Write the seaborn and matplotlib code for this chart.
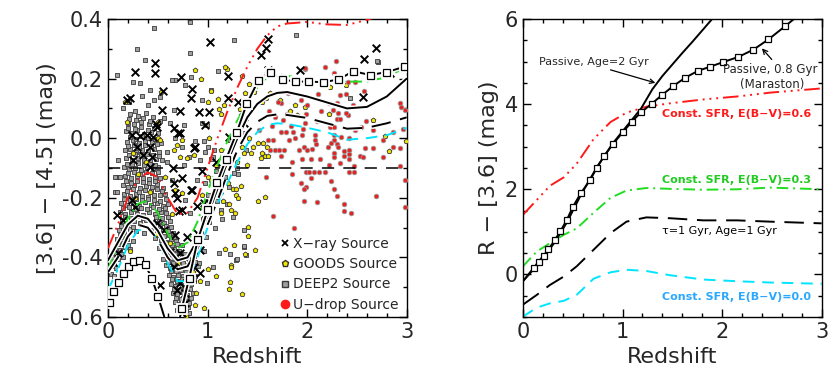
import numpy as np
import pandas as pd
import matplotlib
matplotlib.use("Agg")
import matplotlib.pyplot as plt
import matplotlib.patheffects as pe
from matplotlib.ticker import MultipleLocator, FormatStrFormatter
from matplotlib.lines import Line2D
import seaborn as sns

sns.set_theme(style="ticks")
plt.rcParams["font.family"] = ["DejaVu Sans"]

# ---------------- data: left panel scatter (redshift, [3.6]-[4.5]) ----------------
xray_pts = [
    (1.03, 0.324), (0.27, 0.223), (0.47, 0.251), (0.47, 0.220), (0.73, 0.204), (0.55, 0.160),
    (0.19, 0.128), (0.22, 0.134), (0.84, 0.164), (0.83, 0.134), (0.72, 0.092), (0.54, 0.095),
    (0.91, 0.089), (1.02, 0.089), (0.97, 0.044), (0.48, 0.047), (0.66, 0.033), (0.72, 0.016),
    (1.21, 0.209), (1.21, 0.134), (1.31, 0.123), (1.22, 0.005), (1.37, 0.050), (0.65, -0.101),
    (0.94, -0.109), (0.87, -0.028), (0.84, -0.174), (0.74, -0.135), (0.66, -0.151), (0.74, -0.241),
    (1.09, -0.079), (0.96, -0.219), (0.98, -0.252), (1.54, 0.279), (1.59, 0.302), (1.61, 0.332),
    (1.61, 0.229), (1.93, 0.229), (2.57, 0.265), (2.69, 0.302), (2.56, 0.139), (2.83, 0.218),
    (0.24, 0.011), (0.32, 0.007), (0.39, 0.011), (0.45, 0.005), (0.29, -0.028), (0.42, -0.028),
    (0.35, -0.056), (0.44, -0.062), (0.25, -0.073), (0.42, -0.096), (0.49, 0.039), (0.09, -0.258),
    (0.15, -0.275), (0.10, -0.386), (0.05, -0.414), (0.24, -0.207), (0.27, -0.230), (0.52, -0.493),
    (0.72, -0.386), (0.66, -0.431), (0.72, -0.487), (0.77, -0.521), (0.69, -0.509), (0.79, -0.330),
    (0.89, -0.319), (0.92, -0.375), (0.67, -0.325), (0.56, -0.308), (0.49, -0.286), (1.02, -0.219),
    (1.12, -0.174), (0.77, -0.554), (0.74, -0.588), (0.62, -0.381), (0.86, -0.431), (0.92, -0.453),
    (0.84, -0.470), (0.86, -0.034), (0.70, 0.016), (0.67, -0.185), (0.69, -0.200), (0.71, -0.244),
    (0.89, -0.226), (0.83, -0.174),
]

deep2_pts = [
    (0.46, 0.369), (0.82, 0.391), (0.29, 0.298), (0.37, 0.262), (0.09, 0.212), (0.82, 0.285),
    (0.83, 0.207), (0.67, 0.195), (0.64, 0.195), (1.11, 0.227), (1.27, 0.330), (1.89, 0.346),
    (2.71, 0.257), (2.43, 0.134), (1.04, 0.162), (0.94, 0.128), (0.77, 0.179), (0.66, 0.095),
    (0.99, 0.044), (1.06, -0.062), (0.92, -0.073), (0.09, -0.129), (0.07, -0.179), (1.36, 0.016),
    (1.39, -0.040), (1.27, -0.118), (1.22, -0.163), (1.26, -0.263), (1.37, -0.308), (1.37, -0.364),
    (1.39, -0.392), (1.29, -0.409), (1.12, -0.386), (1.06, -0.431), (0.99, -0.487), (0.81, -0.588),
    (0.52, 0.139), (0.32, 0.184), (0.25, 0.190), (0.42, 0.162), (0.46, 0.128), (0.56, 0.067),
    (0.62, 0.050), (0.76, 0.044), (0.94, 0.050), (0.67, 0.000), (0.74, -0.028), (0.59, -0.045),
    (0.87, -0.010), (0.81, -0.062), (0.96, -0.010), (0.97, -0.045), (0.76, -0.090), (0.59, -0.079),
    (0.64, -0.140), (0.89, -0.140), (0.97, -0.151), (0.77, -0.207), (0.82, -0.252), (0.97, -0.235),
    (0.10, -0.073), (0.07, -0.129), (0.12, -0.129), (0.09, -0.179), (1.37, -0.361), (1.23, -0.390),
    (1.30, -0.406), (1.00, -0.030), (1.07, -0.040), (1.04, -0.070), (1.09, -0.110), (1.14, -0.240),
    (1.07, -0.150), (1.12, -0.180), (1.30, -0.100), (1.31, -0.120), (1.05, -0.190), (1.00, -0.190),
    (1.28, 0.020), (1.23, -0.005), (2.70, 0.259), (0.15, 0.100), (0.21, 0.120), (0.34, 0.140),
    (0.40, 0.110), (0.27, 0.090),
    # dense low-z cloud
    (0.22, 0.082), (0.30, 0.076), (0.38, 0.085), (0.45, 0.071),
    (0.20, 0.052), (0.26, 0.046), (0.33, 0.055), (0.41, 0.049), (0.48, 0.043), (0.52, 0.058),
    (0.18, 0.024), (0.23, 0.017), (0.29, 0.026), (0.36, 0.014), (0.43, 0.022), (0.50, 0.018),
    (0.19, -0.012), (0.25, -0.006), (0.31, -0.015), (0.37, -0.008), (0.44, -0.013), (0.49, -0.004), (0.53, -0.016),
    (0.17, -0.041), (0.22, -0.036), (0.28, -0.045), (0.34, -0.038), (0.40, -0.043), (0.46, -0.035), (0.51, -0.047),
    (0.18, -0.068), (0.24, -0.074), (0.30, -0.066), (0.36, -0.072), (0.42, -0.077), (0.48, -0.069), (0.54, -0.073),
    (0.16, -0.097), (0.21, -0.104), (0.27, -0.099), (0.33, -0.106), (0.39, -0.095), (0.45, -0.103), (0.50, -0.098),
    (0.17, -0.128), (0.23, -0.134), (0.29, -0.126), (0.35, -0.133), (0.41, -0.137), (0.47, -0.129), (0.52, -0.135),
    (0.15, -0.158), (0.20, -0.164), (0.26, -0.157), (0.32, -0.166), (0.38, -0.159), (0.44, -0.163), (0.49, -0.155), (0.55, -0.167),
    (0.16, -0.188), (0.22, -0.195), (0.28, -0.186), (0.34, -0.193), (0.40, -0.197), (0.46, -0.189), (0.52, -0.192), (0.57, -0.186),
    (0.13, -0.217), (0.19, -0.224), (0.25, -0.218), (0.31, -0.226), (0.37, -0.215), (0.43, -0.223), (0.49, -0.219), (0.55, -0.227), (0.60, -0.221),
    (0.12, -0.248), (0.17, -0.254), (0.23, -0.246), (0.29, -0.253), (0.35, -0.257), (0.41, -0.249), (0.47, -0.255), (0.53, -0.246), (0.58, -0.252),
    (0.14, -0.277), (0.20, -0.284), (0.26, -0.279), (0.32, -0.286), (0.38, -0.276), (0.45, -0.283), (0.51, -0.278), (0.56, -0.285), (0.62, -0.279),
    (0.11, -0.308), (0.16, -0.314), (0.22, -0.306), (0.28, -0.313), (0.36, -0.317), (0.43, -0.309), (0.49, -0.315), (0.55, -0.307), (0.60, -0.312), (0.65, -0.318),
    (0.09, -0.337), (0.14, -0.344), (0.19, -0.338), (0.25, -0.345), (0.47, -0.336), (0.53, -0.343), (0.58, -0.347), (0.63, -0.339), (0.68, -0.344),
    (0.07, -0.368), (0.12, -0.374), (0.17, -0.366), (0.22, -0.373), (0.51, -0.369), (0.56, -0.375), (0.61, -0.367), (0.66, -0.372), (0.71, -0.377),
    (0.05, -0.397), (0.10, -0.404), (0.15, -0.398), (0.55, -0.405), (0.60, -0.396), (0.64, -0.402), (0.69, -0.407), (0.74, -0.399), (0.80, -0.403), (0.86, -0.396),
    (0.04, -0.428), (0.08, -0.434), (0.58, -0.427), (0.62, -0.435), (0.67, -0.429), (0.72, -0.436), (0.78, -0.426), (0.84, -0.433), (0.90, -0.428),
    (0.03, -0.457), (0.06, -0.463), (0.61, -0.458), (0.65, -0.466), (0.70, -0.459), (0.75, -0.464), (0.81, -0.455), (0.87, -0.462),
    (0.63, -0.488), (0.67, -0.495), (0.72, -0.487), (0.77, -0.494), (0.83, -0.489),
    (0.65, -0.518), (0.69, -0.524), (0.74, -0.517), (0.79, -0.525), (0.85, -0.519),
    (0.67, -0.548), (0.71, -0.555), (0.76, -0.549), (0.81, -0.553),
    (0.69, -0.578), (0.73, -0.584), (0.78, -0.577),
    (0.88, -0.350), (0.93, -0.310), (0.95, -0.270), (0.98, -0.330), (1.02, -0.280), (1.05, -0.240),
    (1.08, -0.300), (1.10, -0.210), (1.15, -0.270), (1.18, -0.130), (1.20, -0.220), (0.91, -0.420),
    (0.96, -0.380),
    # second pass through the dense cloud
    (0.21, 0.065), (0.28, 0.061), (0.35, 0.068), (0.42, 0.059),
    (0.20, 0.035), (0.27, 0.031), (0.33, 0.038), (0.40, 0.029), (0.46, 0.034),
    (0.22, 0.003), (0.28, -0.002), (0.34, 0.006), (0.40, 0.001), (0.47, -0.003),
    (0.20, -0.026), (0.26, -0.022), (0.31, -0.029), (0.37, -0.024), (0.43, -0.027), (0.49, -0.021),
    (0.21, -0.056), (0.27, -0.052), (0.33, -0.058), (0.39, -0.053), (0.45, -0.057), (0.51, -0.060),
    (0.19, -0.085), (0.24, -0.088), (0.30, -0.083), (0.36, -0.089), (0.42, -0.086), (0.47, -0.091),
    (0.20, -0.116), (0.26, -0.113), (0.32, -0.119), (0.38, -0.114), (0.44, -0.118), (0.50, -0.112),
    (0.18, -0.145), (0.23, -0.149), (0.29, -0.143), (0.35, -0.147), (0.41, -0.151), (0.47, -0.144),
    (0.19, -0.176), (0.25, -0.172), (0.31, -0.179), (0.37, -0.174), (0.43, -0.178), (0.49, -0.171), (0.54, -0.177),
    (0.16, -0.205), (0.22, -0.209), (0.28, -0.203), (0.34, -0.208), (0.40, -0.204), (0.46, -0.207), (0.52, -0.211), (0.58, -0.203),
    (0.15, -0.235), (0.21, -0.231), (0.27, -0.238), (0.33, -0.233), (0.39, -0.236), (0.45, -0.232), (0.51, -0.239), (0.57, -0.234),
    (0.17, -0.265), (0.23, -0.268), (0.29, -0.262), (0.35, -0.267), (0.48, -0.264), (0.54, -0.269), (0.60, -0.263),
    (0.13, -0.295), (0.19, -0.292), (0.25, -0.298), (0.52, -0.296), (0.58, -0.293), (0.63, -0.299),
    (0.12, -0.325), (0.17, -0.329), (0.50, -0.324), (0.56, -0.328), (0.61, -0.326), (0.66, -0.331),
    (0.10, -0.356), (0.15, -0.352), (0.20, -0.358), (0.54, -0.355), (0.59, -0.352), (0.64, -0.357), (0.69, -0.354), (0.74, -0.359),
    (0.08, -0.385), (0.13, -0.388), (0.58, -0.386), (0.62, -0.383), (0.67, -0.389), (0.72, -0.384), (0.77, -0.387), (0.83, -0.382),
    (0.06, -0.415), (0.60, -0.414), (0.65, -0.419), (0.70, -0.413), (0.75, -0.418), (0.81, -0.412), (0.87, -0.416),
    (0.63, -0.444), (0.68, -0.447), (0.73, -0.442), (0.78, -0.448), (0.84, -0.443),
    (0.64, -0.474), (0.69, -0.478), (0.74, -0.472), (0.80, -0.476), (0.86, -0.479),
    (0.66, -0.505), (0.71, -0.508), (0.76, -0.503), (0.82, -0.507),
    (0.68, -0.535), (0.73, -0.538), (0.78, -0.533), (0.83, -0.537),
    (0.70, -0.565), (0.75, -0.568), (0.80, -0.566),
]

goods_pts = [
    (1.197, 0.231), (1.35, 0.209), (1.04, 0.159), (1.106, 0.131), (1.00, 0.120), (1.166, 0.111),
    (1.12, 0.097), (1.14, 0.080), (1.374, 0.153), (1.417, 0.182), (1.464, 0.154), (1.324, 0.097),
    (1.34, 0.078), (1.625, 0.153), (1.59, 0.136), (1.55, 0.120), (1.725, 0.128), (1.876, 0.111),
    (1.90, 0.078), (1.83, 0.090), (2.23, 0.173), (2.39, 0.179), (1.98, 0.104), (2.22, 0.080),
    (2.78, 0.007), (2.82, -0.042), (2.99, -0.010), (2.66, 0.060), (1.51, -0.017), (1.56, -0.017),
    (1.60, -0.030), (1.55, -0.050), (1.58, -0.060), (1.61, -0.060), (1.54, -0.065), (1.46, -0.028),
    (1.44, -0.050), (1.40, -0.090), (1.37, -0.050), (1.35, -0.030), (1.51, -0.210), (1.58, -0.196),
    (1.42, 0.000), (1.38, 0.010), (1.02, 0.000), (1.00, -0.130), (1.04, -0.140), (1.21, -0.150),
    (1.26, -0.170), (1.29, -0.190), (1.31, -0.200), (1.22, -0.220), (1.24, -0.240), (1.28, -0.250),
    (1.34, -0.160), (1.09, -0.090), (1.14, -0.040), (1.30, -0.080), (1.29, -0.170), (1.16, -0.210),
    (1.14, -0.250), (1.407, -0.298), (1.41, -0.329), (1.264, -0.358), (1.18, -0.372), (1.474, -0.376),
    (1.38, -0.388), (1.234, -0.426), (1.24, -0.431), (1.083, -0.461), (1.23, -0.481), (1.217, -0.506),
    (1.35, -0.524), (1.00, -0.440), (0.19, 0.056), (0.50, 0.056), (0.66, -0.040), (0.69, -0.023),
    (0.74, -0.006), (0.72, -0.062), (0.79, -0.068), (0.86, -0.056), (0.67, -0.174), (0.57, -0.129),
    (0.74, -0.185), (0.64, -0.255), (0.50, 0.000), (0.52, -0.006), (0.94, -0.190), (0.25, -0.050),
    (0.30, -0.120), (0.38, -0.080), (0.27, -0.200), (0.42, -0.180), (0.33, -0.290), (0.18, -0.330),
    (0.22, -0.380), (0.48, -0.320), (0.62, -0.350), (0.70, -0.420), (0.77, -0.500), (0.85, -0.450),
    (0.92, -0.480), (0.78, -0.595), (0.88, -0.520), (0.96, -0.570), (0.17, 0.120), (0.53, 0.155),
    (0.93, 0.200), (0.87, 0.230), (1.18, 0.240), (0.87, -0.560), (0.73, -0.580),
]

udrop_pts = [
    (1.66, -0.262), (1.87, -0.302), (1.976, 0.232), (1.81, 0.151), (1.74, 0.117), (1.94, 0.128),
    (1.71, 0.120), (2.00, 0.110), (2.29, 0.259), (2.18, 0.238), (1.98, 0.235), (2.27, 0.218),
    (2.48, 0.190), (2.41, 0.190), (2.57, 0.158), (2.11, 0.148), (2.33, 0.145), (2.22, 0.119),
    (2.30, 0.117), (2.46, 0.111), (2.93, 0.117), (2.94, 0.106), (1.99, 0.080), (2.14, 0.091),
    (2.31, 0.086), (2.41, 0.078), (2.10, 0.059), (2.59, 0.059), (2.23, 0.039), (2.27, 0.039),
    (2.30, 0.065), (2.33, 0.065), (2.48, 0.027), (2.54, 0.039), (1.98, 0.050), (1.96, 0.030),
    (2.08, 0.010), (2.08, -0.005), (2.09, -0.020), (2.27, 0.010), (2.27, -0.005), (2.34, 0.005),
    (2.42, 0.000), (2.30, -0.020), (2.21, -0.028), (2.24, -0.015), (2.31, -0.030), (1.97, -0.028),
    (2.00, -0.040), (2.05, -0.035), (2.37, -0.043), (2.42, -0.040), (2.42, -0.052), (2.37, -0.060),
    (2.42, -0.070), (2.27, -0.050), (2.27, -0.062), (2.13, -0.071), (2.04, -0.071), (2.33, -0.082),
    (2.22, -0.090), (2.58, -0.032), (2.53, -0.060), (2.93, -0.034), (2.96, 0.030), (2.47, -0.092),
    (1.99, -0.112), (2.02, -0.112), (2.07, -0.112), (2.12, -0.112), (2.18, -0.112), (2.42, -0.112),
    (2.47, -0.112), (2.93, -0.092), (2.04, -0.132), (2.24, -0.143), (1.99, -0.163), (2.27, -0.171),
    (2.30, -0.193), (2.69, -0.193), (2.10, -0.213), (2.37, -0.222), (2.37, -0.244), (2.44, -0.252),
    (2.98, -0.140), (2.98, -0.230), (1.52, 0.027), (1.74, 0.020), (1.79, 0.020), (1.84, 0.040),
    (1.86, 0.020), (1.82, -0.005), (1.88, 0.000), (1.95, 0.010), (1.61, -0.005), (1.66, -0.005),
    (1.675, -0.040), (1.72, -0.040), (1.77, -0.040), (1.63, -0.040), (1.92, -0.040), (1.85, -0.080),
    (1.95, -0.070), (1.74, -0.060), (1.585, -0.129), (1.85, -0.120), (1.935, -0.151), (1.97, -0.170),
    (1.97, -0.210), (2.39, 0.150), (2.26, 0.095), (2.39, 0.083), (1.62, 0.090), (1.68, 0.070),
    (1.76, 0.060), (1.80, 0.080), (1.65, 0.040), (2.66, 0.028), (2.76, -0.006), (2.86, -0.030),
    (2.66, -0.034), (2.76, -0.062), (2.56, -0.062), (2.86, 0.022), (2.98, 0.095),
]

# ---------------- data: left panel model tracks ----------------
trk_z = [0.0, 0.1, 0.2, 0.3, 0.4, 0.5, 0.6, 0.7, 0.8, 0.9, 1.0, 1.1, 1.2, 1.3, 1.4,
         1.5, 1.6, 1.7, 1.8, 2.0, 2.2, 2.4, 2.6, 2.8, 3.0]
left_passive2 = [-0.41, -0.35, -0.29, -0.26, -0.27, -0.31, -0.37, -0.41, -0.40, -0.34, -0.26, -0.17,
                 -0.08, 0.00, 0.07, 0.115, 0.14, 0.152, 0.155, 0.14, 0.12, 0.10, 0.105, 0.14, 0.20]
left_tau1 = [-0.45, -0.40, -0.33, -0.29, -0.30, -0.34, -0.40, -0.44, -0.43, -0.37, -0.29, -0.21,
             -0.12, -0.04, 0.02, 0.055, 0.075, 0.08, 0.078, 0.068, 0.05, 0.032, 0.035, 0.05, 0.07]
left_sfr00 = [-0.51, -0.44, -0.36, -0.31, -0.30, -0.34, -0.42, -0.48, -0.48, -0.40, -0.30, -0.22,
              -0.15, -0.08, -0.02, 0.02, 0.045, 0.05, 0.048, 0.035, 0.02, -0.005, 0.0, 0.01, 0.035]
left_sfr03 = [-0.44, -0.36, -0.27, -0.22, -0.21, -0.25, -0.32, -0.37, -0.35, -0.28, -0.18, -0.09,
              -0.01, 0.06, 0.12, 0.17, 0.205, 0.215, 0.21, 0.195, 0.19, 0.19, 0.19, 0.205, 0.24]
left_sfr06 = [-0.37, -0.29, -0.20, -0.14, -0.115, -0.13, -0.20, -0.255, -0.25, -0.20, -0.10, 0.0,
              0.09, 0.17, 0.24, 0.30, 0.345, 0.375, 0.385, 0.39, 0.382, 0.38, 0.397, 0.42, 0.44]

mar_z = [0.02, 0.06, 0.107, 0.157, 0.207, 0.257, 0.318, 0.375, 0.441, 0.502, 0.585, 0.676,
         0.743, 0.816, 0.903, 1.003, 1.094, 1.187, 1.294, 1.394, 1.512, 1.629, 1.756, 1.88,
         2.013, 2.164, 2.314, 2.465, 2.632, 2.8, 2.98]
left_mar = [-0.55, -0.515, -0.483, -0.455, -0.43, -0.414, -0.41, -0.425, -0.47, -0.53, -0.62, -0.68,
            -0.57, -0.47, -0.34, -0.24, -0.15, -0.07, 0.02, 0.115, 0.195, 0.222, 0.197, 0.19,
            0.19, 0.188, 0.197, 0.225, 0.212, 0.222, 0.24]

# ---------------- data: right panel model tracks (R-[3.6]) ----------------
r_mar_z = [0.0, 0.107, 0.157, 0.207, 0.257, 0.318, 0.375, 0.441, 0.502, 0.585, 0.676, 0.743,
           0.816, 0.903, 1.003, 1.094, 1.187, 1.294, 1.394, 1.512, 1.629, 1.756, 1.88, 2.013,
           2.164, 2.314, 2.465, 2.632, 2.8]
r_mar = [-0.16, 0.15, 0.30, 0.44, 0.59, 0.80, 1.01, 1.28, 1.59, 1.92, 2.22, 2.51,
         2.78, 3.06, 3.34, 3.59, 3.81, 4.01, 4.21, 4.43, 4.62, 4.78, 4.88, 4.99,
         5.11, 5.28, 5.52, 5.83, 6.15]
r_pass_z = [0.0, 0.107, 0.207, 0.318, 0.441, 0.585, 0.743, 0.903, 1.003, 1.094, 1.187, 1.3,
            1.4, 1.5, 1.6, 1.7, 1.8, 1.9, 2.0]
r_pass = [-0.16, 0.12, 0.40, 0.75, 1.22, 1.88, 2.52, 3.08, 3.37, 3.63, 3.90, 4.35,
          4.66, 4.93, 5.20, 5.46, 5.73, 6.0, 6.3]
r_z = [0.0, 0.14, 0.27, 0.41, 0.54, 0.71, 0.88, 1.04, 1.24, 1.48, 1.81, 2.15, 2.48, 3.0]
r_sfr06 = [1.40, 1.75, 2.08, 2.28, 2.60, 3.18, 3.58, 3.80, 3.94, 4.02, 4.11, 4.18, 4.27, 4.37]
r_sfr03 = [0.19, 0.54, 0.73, 0.93, 1.08, 1.45, 1.80, 1.97, 2.03, 2.01, 1.99, 2.0, 2.04, 2.0]
r_tau1 = [-0.71, -0.48, -0.25, -0.05, 0.19, 0.58, 0.97, 1.24, 1.34, 1.32, 1.27, 1.27, 1.24, 1.20]
r_sfr00 = [-0.99, -0.78, -0.68, -0.62, -0.48, -0.10, 0.05, 0.11, 0.08, -0.02, -0.12, -0.16, -0.19, -0.22]

RED = "#ff1a1a"
GREEN = "#22dd22"
CYAN = "#00e5ff"
CYAN_TXT = "#2aa8ff"

fig = plt.figure(figsize=(8.3, 3.88), dpi=100)
axl = fig.add_axes([0.130, 0.183, 0.360, 0.768])
axr = fig.add_axes([0.630, 0.183, 0.360, 0.768])

white_edge = [pe.Stroke(linewidth=3.5, foreground="white"), pe.Normal()]


def draw_track(ax, z, v, color, dashes=None, lw=1.4, halo=False, **kw):
    sns.lineplot(x=z, y=v, ax=ax, color=color, lw=lw, sort=False, estimator=None, **kw)
    line = ax.lines[-1]
    if dashes is not None:
        line.set_dashes(dashes)
    if halo:
        line.set_path_effects(white_edge)
    return line


def to_df(pts):
    return pd.DataFrame(pts, columns=["z", "c"])


# ---- left panel ----
sns.scatterplot(data=to_df(deep2_pts), x="z", y="c", ax=axl, marker="s", s=10,
                color="#a0a0a0", edgecolor="#3a3a3a", linewidth=0.6, zorder=2)
sns.scatterplot(data=to_df(goods_pts), x="z", y="c", ax=axl, marker="p", s=13,
                color="#f2e600", edgecolor="#333333", linewidth=0.6, zorder=3)
sns.scatterplot(data=to_df(udrop_pts), x="z", y="c", ax=axl, marker="o", s=11,
                color="#e82020", edgecolor="#999999", linewidth=0.6, zorder=3)
sns.scatterplot(data=to_df(xray_pts), x="z", y="c", ax=axl, marker="x", s=30,
                color="black", linewidth=1.4, zorder=4)

axl.axhline(-0.1, color="black", lw=1.1, dashes=(8, 6), zorder=5)
draw_track(axl, trk_z, left_sfr06, RED, dashes=(8, 2.5, 1, 2.5, 1, 2.5, 1, 2.5), zorder=6)
draw_track(axl, trk_z, left_sfr03, GREEN, dashes=(6, 2.5, 1, 2.5), zorder=6)
draw_track(axl, trk_z, left_sfr00, CYAN, dashes=(6, 4), zorder=6)
draw_track(axl, trk_z, left_tau1, "black", dashes=(10, 5), halo=True, zorder=6)
draw_track(axl, trk_z, left_passive2, "black", halo=True, zorder=6)
draw_track(axl, mar_z, left_mar, "black", halo=True, zorder=7, marker="s", markersize=5,
           markerfacecolor="white", markeredgecolor="black", markeredgewidth=0.9)

axl.set_xlim(0, 3)
axl.set_ylim(-0.6, 0.4)
axl.set_yticks([-0.6, -0.4, -0.2, 0.0, 0.2, 0.4])
axl.yaxis.set_major_formatter(FormatStrFormatter("%.1f"))
axl.yaxis.set_minor_locator(MultipleLocator(0.1))
axl.set_ylabel("[3.6] \u2212 [4.5] (mag)", fontsize=16)

handles = [
    Line2D([], [], ls="none", marker="x", color="black", markersize=5, markeredgewidth=1.3),
    Line2D([], [], ls="none", marker="p", markerfacecolor="#f2e600", markeredgecolor="#333333", markersize=5),
    Line2D([], [], ls="none", marker="s", markerfacecolor="#a0a0a0", markeredgecolor="#3a3a3a", markersize=4),
    Line2D([], [], ls="none", marker="o", markerfacecolor="#ff1a1a", markeredgecolor="#ff1a1a", markersize=6),
]
labels = ["X\u2212ray Source", "GOODS Source", "DEEP2 Source", "U\u2212drop Source"]
leg = axl.legend(handles, labels, loc="lower right", bbox_to_anchor=(1.0, -0.01), frameon=False,
                 fontsize=10, handletextpad=0.05, handlelength=1.0, labelspacing=0.45,
                 borderaxespad=0.2)
leg.set_zorder(10)

# ---- right panel ----
draw_track(axr, r_z, r_sfr06, RED, dashes=(8, 2.5, 1, 2.5, 1, 2.5, 1, 2.5))
draw_track(axr, r_z, r_sfr03, GREEN, dashes=(6, 2.5, 1, 2.5))
draw_track(axr, r_z, r_tau1, "black", dashes=(10, 5))
draw_track(axr, r_z, r_sfr00, CYAN, dashes=(6, 4))
draw_track(axr, r_pass_z, r_pass, "black")
mline = draw_track(axr, r_mar_z, r_mar, "black", marker="s", markersize=5,
                   markerfacecolor="white", markeredgecolor="black", markeredgewidth=0.9)
mline.set_markevery(list(range(1, len(r_mar_z))))

axr.set_xlim(0, 3)
axr.set_ylim(-1, 6)
axr.set_yticks([0, 2, 4, 6])
axr.yaxis.set_minor_locator(MultipleLocator(0.5))
axr.set_ylabel("R \u2212 [3.6] (mag)", fontsize=16)

axr.annotate("Passive, Age=2 Gyr", xy=(1.33, 4.50), xytext=(0.16, 5.0), fontsize=8,
             va="center", ha="left",
             arrowprops=dict(arrowstyle="->", color="black", lw=0.9, shrinkA=0, shrinkB=0,
                             relpos=(0.55, 0.0)))
axr.annotate("Passive, 0.8 Gyr", xy=(2.40, 5.31), xytext=(2.48, 4.82), fontsize=8.5,
             va="center", ha="center",
             arrowprops=dict(arrowstyle="->", color="black", lw=0.9, shrinkA=0, shrinkB=0,
                             relpos=(0.55, 1.0)))
axr.text(2.50, 4.45, "(Maraston)", fontsize=8.5, ha="center", va="center")
axr.text(1.40, 3.76, "Const. SFR, E(B\u2212V)=0.6", color=RED, fontsize=8, fontweight="bold",
         ha="left", va="center")
axr.text(1.40, 2.22, "Const. SFR, E(B\u2212V)=0.3", color="#1fcc1f", fontsize=8, fontweight="bold",
         ha="left", va="center")
axr.text(1.40, 1.02, "\u03c4=1 Gyr, Age=1 Gyr", color="black", fontsize=8,
         ha="left", va="center")
axr.text(1.40, -0.52, "Const. SFR, E(B\u2212V)=0.0", color=CYAN_TXT, fontsize=8, fontweight="bold",
         ha="left", va="center")

for ax in (axl, axr):
    ax.set_xticks([0, 1, 2, 3])
    ax.xaxis.set_minor_locator(MultipleLocator(0.2))
    ax.set_xlabel("Redshift", fontsize=16)
    ax.tick_params(which="both", direction="in", top=True, right=True, labelsize=15,
                   color="black", width=1)
    ax.tick_params(which="major", length=6)
    ax.tick_params(which="minor", length=3)
    for s in ax.spines.values():
        s.set_color("black")
        s.set_linewidth(1.0)

fig.savefig("out.png", dpi=100)
